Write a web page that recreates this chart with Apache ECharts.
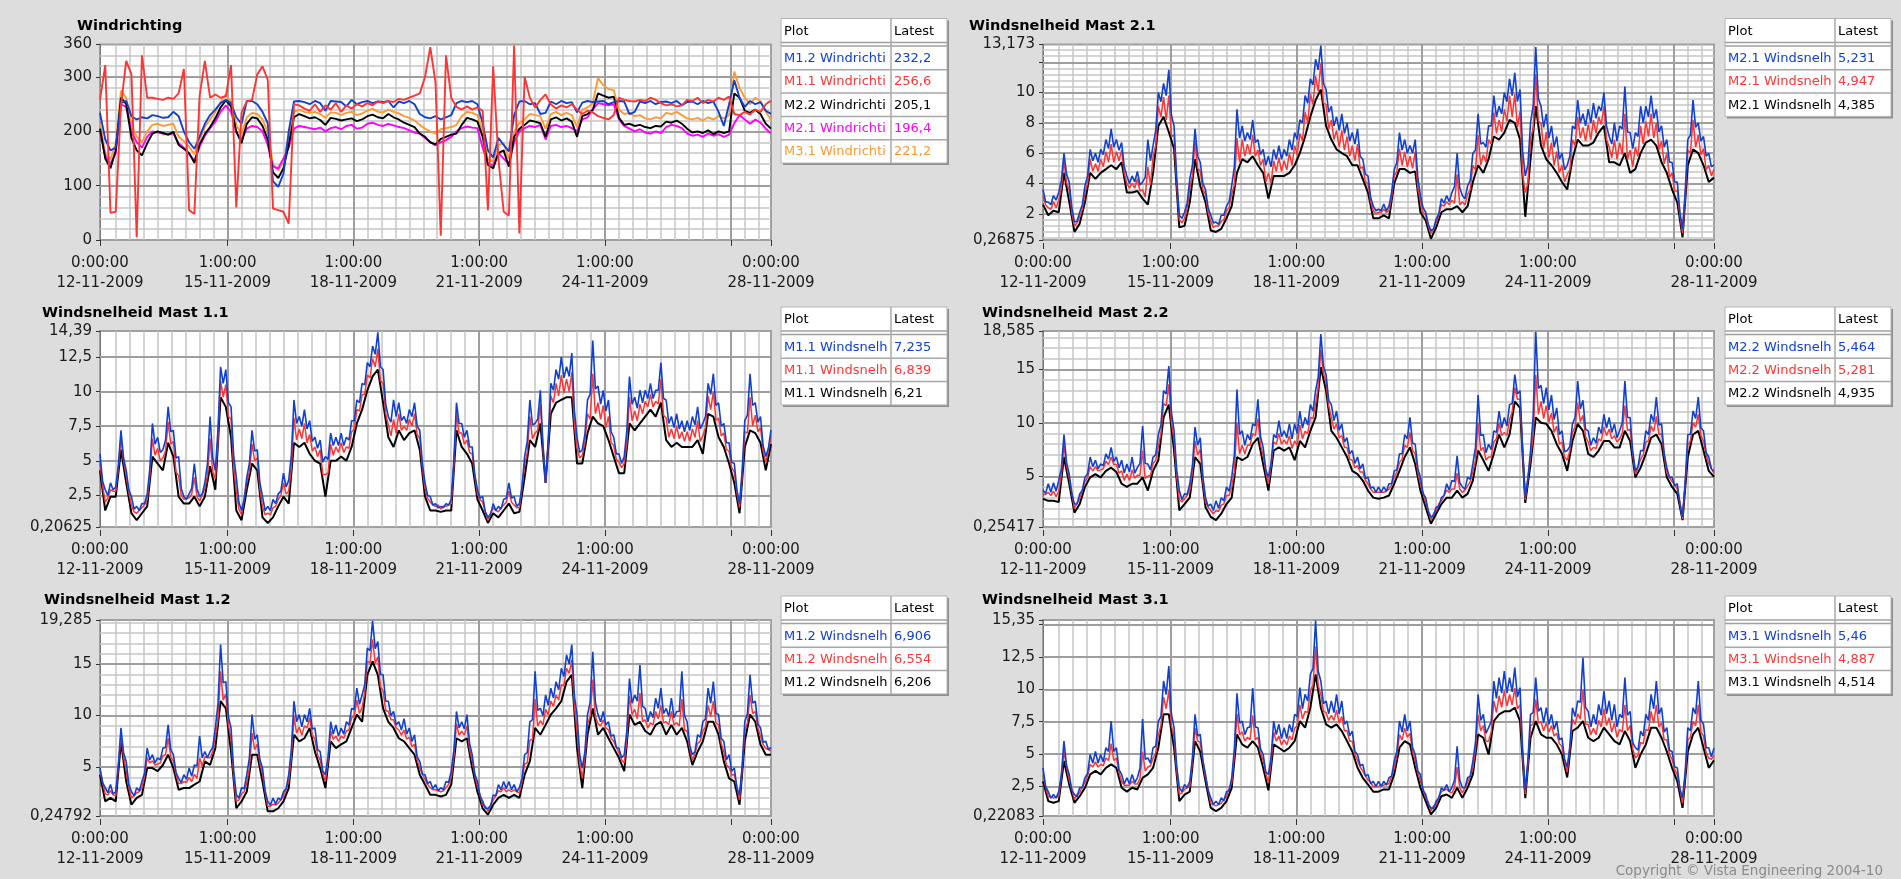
<!DOCTYPE html>
<html>
<head>
<meta charset="utf-8">
<script src="https://cdn.jsdelivr.net/npm/echarts@6/dist/echarts.min.js"></script>
<style>
  html, body { margin: 0; padding: 0; background: #dddddd; }
  #chart { width: 1901px; height: 879px; }
</style>
</head>
<body>
<div id="chart"></div>
<script>
// Readings every 3 hours from 12-11-2009 0:00 to 28-11-2009 0:00 (x in hours);
// the *Mid arrays hold the readings half-way between them (h = 1.5, 4.5, ...).
const STEP_HOURS = 3;

// Time axis ticks and labels
const xTickHours = [0, 73, 145, 217, 289, 361, 384];
const xLabelHours = [0, 73, 145, 217, 289, 384];
const xLabelTexts = ['0:00:00\n12-11-2009', '1:00:00\n15-11-2009', '1:00:00\n18-11-2009',
                     '1:00:00\n21-11-2009', '1:00:00\n24-11-2009', '0:00:00\n28-11-2009'];
const xMinorHours = [9,17,25,33,41,49,57,65, 81,89,97,105,113,121,129,137, 153,161,169,177,185,193,201,209,
                     225,233,241,249,257,265,273,281, 297,305,313,321,329,337,345,353, 369,377];

// ---- Windrichting (degrees) ----
const wrM12 = [234,185,165,170,252,256,228,222,226,224,
  230,228,225,226,236,228,200,180,168,190,
  214,230,240,252,258,252,226,214,256,256,
  250,236,215,108,98,122,200,255,256,254,
  250,256,252,238,256,255,254,246,258,250,
  254,256,252,255,254,256,244,255,252,256,
  250,232,226,224,228,222,226,230,252,256,
  254,256,250,215,165,152,188,175,163,230,
  255,256,250,252,232,234,255,250,256,252,
  254,235,253,256,254,255,256,250,254,256,
  255,232,236,255,252,256,250,254,255,252,
  256,248,254,255,250,256,252,255,236,210,
  250,294,262,245,256,250,254,238,232.2];
const wrM11 = [258,322,50,52,248,330,305,5,340,262,
  262,260,258,262,260,270,315,55,48,265,
  330,262,268,262,265,322,60,235,255,258,
  305,320,295,58,55,52,30,250,248,242,
  238,250,236,248,240,252,236,248,242,250,
  246,252,248,255,252,256,254,260,258,262,
  266,270,300,355,290,8,340,262,245,240,
  246,240,244,238,55,320,150,52,45,358,
  12,300,262,244,258,268,250,242,248,244,
  250,240,232,238,235,228,225,222,230,262,
  258,256,255,258,256,262,258,252,248,250,
  246,248,258,256,262,252,258,255,262,258,
  264,232,230,236,231,240,236,250,256.6];
const wrM22 = [205,150,132,165,262,250,188,165,156,178,
  196,200,197,194,199,175,168,160,142,176,
  195,208,224,244,257,246,200,178,214,226,
  224,210,185,125,114,132,175,226,232,228,
  224,226,221,212,225,223,220,222,224,219,
  222,228,231,226,224,232,226,222,216,212,
  208,196,190,180,176,186,190,194,196,212,
  225,222,218,190,138,132,160,165,135,190,
  205,212,220,218,215,190,222,226,220,224,
  218,190,228,232,240,270,266,262,264,225,
  212,214,210,212,208,206,210,209,218,216,
  220,214,205,198,200,197,202,195,200,197,
  200,270,262,238,234,240,232,214,205.1];
const wrM21 = [200,155,140,160,250,245,200,180,170,190,
  200,198,196,194,196,178,170,158,146,172,
  192,206,218,236,248,236,198,185,205,210,
  208,200,175,135,132,150,170,205,210,208,
  206,204,207,200,206,208,204,210,212,205,
  207,214,216,212,210,214,211,208,206,202,
  198,196,188,180,174,180,184,190,200,206,
  209,207,206,170,140,138,160,150,140,180,
  200,206,210,208,212,185,210,212,208,210,
  206,200,222,226,240,252,250,248,250,222,
  210,205,200,204,198,196,200,197,208,212,
  210,206,196,192,194,190,196,192,195,190,
  194,215,230,222,214,222,216,205,196.4];
const wrM31 = [215,160,148,178,275,262,212,190,180,200,
  212,214,210,212,214,190,182,172,158,185,
  208,222,236,254,268,255,212,195,226,234,
  232,222,198,140,128,145,190,236,240,236,
  234,236,232,225,235,234,230,234,236,230,
  233,238,242,236,235,240,236,233,228,225,
  220,212,205,200,196,204,206,208,212,228,
  236,234,230,200,148,145,175,178,150,200,
  216,222,232,230,228,205,232,236,230,234,
  230,208,240,244,252,298,285,278,276,240,
  232,234,228,230,224,222,226,224,234,232,
  236,230,224,222,225,220,226,222,228,224,
  230,310,280,262,250,262,255,236,221.2];

// ---- Windsnelheid Mast 2.1 (m/s) ----
const m21Blue = [3.6,2.76,3.2,3.4,6.0,4.1,1.45,2.1,3.85,6.25,
  6.0,6.25,6.9,7.6,6.9,6.7,4.5,4.5,4.8,4.1,
  6.9,6.5,10.0,10.6,11.5,7.8,1.9,2.1,4.3,7.6,
  5.4,3.6,1.9,1.45,1.9,2.5,3.85,8.9,7.8,7.36,
  8.2,6.9,6.25,5.8,6.25,6.5,6.25,6.9,7.36,8.2,
  9.8,10.9,12.2,13.1,10.2,9.1,8.4,8.6,8.0,7.36,
  7.6,5.6,4.5,2.5,2.3,2.65,2.5,4.9,7.36,6.9,
  6.5,6.9,3.2,2.1,0.9,1.65,3.0,3.2,3.4,6.0,
  3.2,3.85,6.0,8.6,6.7,7.8,9.8,9.1,10.0,10.9,
  11.3,10.2,4.5,8.0,13.0,9.1,8.6,7.8,7.1,6.0,
  5.2,7.8,9.5,8.6,8.9,9.3,9.1,10.0,7.1,8.0,
  7.8,10.4,7.36,7.36,9.1,9.1,9.8,8.9,7.8,6.9,
  5.4,4.1,1.0,6.9,9.5,8.0,7.1,6.0,5.231];
const m21BlueMid = [2.8,2.6,2.9,4.2,4.6,2.4,1.5,2.6,4.5,5.5,
  5.4,5.9,6.3,6.4,6.2,5.1,4.0,4.1,3.9,4.4,
  5.5,7.5,9.4,9.8,8.5,4.4,1.7,2.7,5.2,5.8,
  4.0,2.4,1.4,1.3,1.9,2.8,5.1,7.0,6.8,6.9,
  6.7,5.9,5.2,5.1,5.6,5.6,5.8,6.2,6.9,8.0,
  9.3,10.5,11.5,10.6,8.7,7.8,7.5,7.3,6.8,6.6,
  5.8,4.6,3.1,2.2,2.2,2.2,3.4,5.4,6.2,6.0,
  6.0,4.4,2.4,1.3,1.0,2.0,2.7,2.8,3.8,3.7,
  3.0,4.2,6.2,6.6,6.4,7.8,8.4,8.6,9.4,9.8,
  9.4,6.1,5.2,9.1,9.6,7.7,7.0,6.4,5.6,4.9,
  5.8,7.6,8.0,7.8,8.0,8.3,8.8,7.8,6.6,6.8,
  7.6,7.4,6.3,7.1,8.0,8.4,8.3,7.4,6.4,5.4,
  4.1,2.1,3.4,7.2,7.7,6.8,5.8,5.1];
const m21Red = [3.2,2.4,2.8,2.9,5.5,3.6,1.2,1.8,3.4,5.6,
  5.3,5.6,6.1,6.6,6.1,6.2,4.0,4.0,4.3,3.6,
  5.1,5.8,9.1,9.7,9.8,7.2,1.6,1.7,3.7,6.8,
  4.8,3.3,1.5,1.2,1.5,2.2,3.3,7.0,6.9,6.6,
  7.2,6.2,5.6,4.7,5.5,5.7,5.5,6.0,6.5,7.3,
  8.7,9.9,11.1,11.9,9.2,8.2,7.5,7.5,7.1,6.5,
  6.6,5.1,4.0,2.2,2.1,2.3,2.2,4.5,6.3,6.1,
  5.8,6.1,2.8,1.9,0.7,1.4,2.6,2.8,2.9,4.6,
  2.8,3.3,5.2,7.2,5.9,6.9,8.7,8.2,8.9,9.8,
  9.9,8.8,3.4,7.0,11.2,8.0,7.4,6.7,6.1,5.2,
  4.6,6.9,8.4,7.7,7.9,8.2,8.4,9.1,6.4,6.9,
  6.7,8.6,6.2,6.4,7.8,8.1,8.6,8.0,6.8,6.0,
  4.7,3.5,0.7,6.2,8.2,7.2,6.3,5.2,4.947];
const m21RedMid = [2.6,2.3,2.4,3.7,4.0,2.1,1.4,2.3,4.0,4.8,
  4.8,5.1,5.4,5.4,5.5,4.7,3.7,3.7,3.5,3.1,
  3.9,6.5,8.4,8.2,7.1,4.0,1.4,2.3,4.5,5.0,
  3.6,2.1,1.1,1.2,1.6,2.4,3.9,5.4,5.8,5.9,
  5.8,5.2,4.1,4.0,4.8,4.8,4.9,5.2,5.9,6.8,
  8.0,9.2,10.1,9.3,7.6,6.9,6.4,6.2,5.8,5.5,
  5.0,4.1,2.8,2.0,2.1,2.1,3.1,4.8,5.2,5.1,
  5.0,3.7,2.1,1.2,1.0,1.9,2.5,2.6,2.7,2.6,
  2.6,3.6,4.9,5.2,5.4,6.6,7.3,7.4,8.1,8.4,
  7.7,4.6,4.0,7.6,8.1,6.3,5.7,5.2,4.7,4.1,
  4.9,6.5,7.0,6.8,6.9,7.3,7.9,6.9,5.7,5.6,
  5.9,5.6,5.1,5.8,6.6,7.1,7.0,6.2,5.3,4.4,
  3.5,1.9,3.1,6.0,6.4,5.9,4.9,4.5];
const m21Black = [2.6,1.9,2.2,2.1,4.7,2.8,0.8,1.35,2.76,4.7,
  4.3,4.7,4.95,5.2,4.95,5.4,3.4,3.4,3.5,3.0,
  2.6,4.7,7.8,8.4,7.4,6.3,1.1,1.2,2.76,5.6,
  3.85,2.76,0.9,0.8,1.0,1.7,2.5,4.7,5.6,5.4,
  5.8,5.2,4.7,3.0,4.5,4.5,4.5,4.7,5.2,6.0,
  7.1,8.4,9.5,10.2,7.8,6.9,6.25,6.0,5.8,5.2,
  5.2,4.3,3.4,1.7,1.7,1.9,1.7,4.0,4.95,4.95,
  4.7,4.8,2.1,1.55,0.35,1.1,2.1,2.3,2.3,2.5,
  2.1,2.5,4.1,5.2,4.7,5.6,7.1,6.9,7.36,8.2,
  8.0,6.9,1.8,5.6,9.1,6.5,5.6,5.2,4.7,4.1,
  3.6,5.6,6.9,6.5,6.5,6.7,7.36,7.8,5.4,5.4,
  5.2,6.0,4.7,4.95,6.0,6.7,6.9,6.5,5.4,4.7,
  3.6,2.76,0.45,5.2,6.25,6.0,5.2,4.1,4.385];

// ---- Windsnelheid Mast 1.1 ----
const m11Blue = [5.5,2.9,3.4,3.1,7.2,4.3,2.4,1.7,1.9,2.6,
  7.7,6.7,5.8,8.9,7.2,5.3,2.4,2.6,4.8,2.4,
  3.4,8.2,4.3,11.8,11.6,8.9,3.8,1.4,3.8,7.2,
  5.8,2.4,1.7,2.2,2.6,4.1,3.6,9.4,8.2,8.7,
  7.9,6.7,6.5,5.3,7.0,6.7,7.0,6.7,7.9,9.4,
  10.6,12.1,13.3,14.3,11.6,8.2,9.4,9.2,8.2,8.7,
  9.2,7.2,3.4,2.4,1.9,1.7,1.9,2.2,9.2,7.7,
  7.2,6.0,2.9,2.4,0.9,1.9,1.7,2.2,3.4,2.4,
  1.9,5.3,9.4,7.7,10.1,3.4,10.6,11.6,12.5,11.8,
  12.8,6.7,5.8,9.4,13.7,10.4,10.1,9.4,6.7,5.5,
  5.3,11.1,9.6,10.1,10.1,10.6,10.1,12.1,9.4,8.2,
  8.4,7.9,7.9,8.2,8.9,7.7,10.6,11.3,9.2,7.7,
  6.3,4.8,1.9,7.9,11.3,9.2,8.2,5.3,7.235];
const m11BlueMid = [3.5,2.5,2.9,4.7,5.2,2.9,1.5,1.4,1.9,4.4,
  6.2,5.6,6.5,7.1,5.2,3.0,2.2,3.0,3.0,2.6,
  4.8,5.2,7.2,10.6,9.2,5.4,2.0,2.2,4.8,5.7,
  3.4,1.4,1.4,1.9,2.8,3.1,5.4,7.7,7.5,7.3,
  6.4,5.9,4.9,5.1,6.1,6.1,6.1,6.5,7.9,9.2,
  10.5,11.8,12.7,11.8,9.1,7.8,8.2,7.9,7.7,8.2,
  7.5,4.8,2.5,1.8,1.6,1.6,1.8,5.1,7.7,6.7,
  6.0,4.0,2.3,1.3,1.1,1.4,1.5,2.3,2.3,1.7,
  3.1,6.4,7.6,8.0,6.2,6.5,10.1,10.9,11.0,11.1,
  8.6,5.6,6.9,9.8,10.2,9.1,8.6,7.1,5.5,4.8,
  7.2,9.1,8.8,9.2,9.5,9.5,10.1,9.5,7.7,7.4,
  7.3,7.1,7.2,7.6,7.3,8.2,9.8,9.0,7.5,6.3,
  4.9,2.9,4.3,8.3,9.0,7.8,6.1,5.9];
const m11Red = [4.9,2.0,2.9,2.8,6.6,3.9,1.8,1.2,1.6,2.2,
  6.6,5.9,5.2,7.8,6.4,3.9,2.2,2.3,3.8,2.1,
  3.0,6.6,3.7,10.8,10.5,8.0,2.8,1.1,3.4,6.2,
  5.2,1.7,1.2,1.6,2.2,3.4,2.8,8.1,7.3,7.7,
  6.9,6.0,5.8,4.0,6.2,6.0,6.3,6.0,7.1,8.7,
  9.8,11.2,12.4,13.1,10.6,7.6,8.0,8.4,7.5,8.0,
  8.4,6.6,3.0,2.0,1.7,1.5,1.7,1.9,8.4,7.0,
  6.5,5.5,2.6,2.0,0.7,1.6,1.3,1.8,2.8,1.8,
  1.6,4.7,8.2,7.0,9.1,3.4,9.7,10.6,11.2,10.9,
  11.4,5.9,5.4,8.4,11.3,9.2,9.0,8.2,6.1,4.9,
  4.8,9.6,8.6,9.1,9.3,9.8,9.3,10.9,8.1,7.3,
  7.5,7.1,7.1,7.3,7.9,6.8,9.7,10.0,8.1,7.0,
  5.7,4.2,1.6,7.1,9.6,8.3,7.4,4.9,6.839];
const m11RedMid = [3.2,2.3,2.8,4.5,5.0,2.7,1.3,1.4,1.8,3.9,
  5.4,5.0,5.7,6.2,4.2,2.5,2.3,2.6,2.4,2.5,
  3.9,4.2,6.6,9.6,8.2,4.5,1.5,2.2,4.2,5.0,
  3.0,1.1,1.1,1.7,2.5,2.6,4.5,6.5,6.6,6.3,
  5.7,5.3,4.0,4.1,5.4,5.6,5.6,5.9,7.3,8.6,
  9.8,11.0,11.8,10.8,8.4,6.8,7.0,7.2,7.2,7.5,
  6.9,4.5,2.3,1.8,1.8,1.7,1.8,4.7,7.0,6.2,
  5.6,3.9,2.2,1.3,1.2,1.4,1.6,2.0,2.0,1.6,
  3.0,5.6,6.6,7.2,6.0,6.3,9.2,9.7,9.9,10.0,
  7.6,5.2,6.3,8.0,8.4,8.0,7.4,6.3,5.1,4.5,
  6.3,7.9,7.9,8.4,8.9,8.9,9.1,8.3,6.7,6.6,
  6.6,6.4,6.4,6.7,6.4,7.4,8.7,7.9,6.8,5.8,
  4.5,2.7,4.0,7.0,7.5,7.1,5.7,5.7];
const m11Black = [4.3,1.4,2.4,2.4,5.8,3.4,1.2,0.7,1.2,1.7,
  5.3,4.8,4.3,6.3,5.3,2.4,1.9,1.9,2.4,1.7,
  2.4,4.6,2.9,9.6,8.9,6.7,1.4,0.7,2.9,4.8,
  4.3,0.9,0.5,0.9,1.7,2.4,1.9,6.3,6.0,6.3,
  5.5,5.0,4.8,2.4,5.0,5.0,5.3,5.0,6.0,7.7,
  8.7,10.1,11.1,11.6,9.2,6.7,6.0,7.2,6.5,7.0,
  7.2,5.8,2.4,1.4,1.4,1.3,1.4,1.4,7.2,6.0,
  5.5,4.8,2.2,1.4,0.5,1.2,0.9,1.4,1.9,1.2,
  1.3,3.8,6.5,6.0,7.7,3.4,8.4,9.2,9.4,9.6,
  9.6,4.8,4.8,7.0,8.2,7.7,7.5,6.5,5.3,4.1,
  4.1,7.7,7.2,7.7,8.2,8.7,8.2,9.2,6.5,6.0,
  6.3,6.0,6.0,6.0,6.5,5.5,8.4,8.2,6.7,6.0,
  4.8,3.4,1.2,6.0,7.2,7.0,6.3,4.3,6.21];

// ---- Windsnelheid Mast 2.2 ----
const m22Blue = [3.7,4.3,4.4,4.6,8.9,5.2,2.4,3.35,4.9,6.8,
  6.5,6.15,7.1,7.7,6.8,6.5,6.15,6.8,5.8,9.7,
  6.15,6.8,8.9,13.0,15.3,9.25,3.7,3.35,4.3,9.6,
  8.6,3.0,2.4,2.7,3.0,4.0,4.9,13.1,9.25,8.9,
  9.9,12.2,7.7,4.9,8.9,10.2,9.25,9.9,9.9,11.1,
  10.5,11.7,13.0,18.3,14.5,11.7,11.1,9.9,8.6,7.4,
  6.8,6.15,4.9,4.0,4.0,4.0,4.3,5.5,7.1,8.9,
  10.5,8.0,4.9,3.0,1.2,2.1,3.0,4.3,4.6,6.9,
  4.0,4.9,6.15,12.6,8.9,8.0,9.25,11.1,10.5,11.7,
  14.5,13.0,3.0,7.4,18.5,13.5,13.3,12.6,11.4,9.25,
  7.4,9.9,13.9,12.1,9.25,8.6,9.6,10.8,10.5,9.9,
  9.25,13.9,10.5,5.5,7.4,9.25,10.8,12.4,9.9,5.8,
  4.9,4.3,1.2,8.9,11.1,12.4,9.25,6.8,5.464];
const m22BlueMid = [3.4,3.5,3.6,5.7,6.3,3.4,2.4,3.7,5.2,5.9,
  5.7,6.0,6.6,6.4,5.8,5.3,5.4,5.3,6.2,6.2,
  5.6,7.0,9.8,12.7,11.0,5.6,2.8,3.3,6.0,7.9,
  5.0,2.2,1.8,2.0,2.7,3.6,7.0,8.9,7.9,8.4,
  9.7,8.7,5.6,6.2,8.6,8.7,8.6,8.5,9.0,9.5,
  9.8,11.1,14.3,15.3,12.1,10.2,9.3,8.2,7.1,6.2,
  5.7,4.8,3.9,3.5,3.5,3.6,4.3,5.6,7.1,8.5,
  8.1,5.7,3.4,1.7,1.3,2.2,3.2,3.7,4.5,4.4,
  3.8,4.7,7.7,8.8,7.2,7.5,9.1,9.5,9.7,11.8,
  12.7,7.5,4.8,10.6,13.2,11.8,11.2,10.3,8.9,7.3,
  7.8,10.5,11.3,9.4,7.9,8.1,9.0,9.5,9.1,8.6,
  10.0,10.5,7.3,5.9,7.4,8.9,10.1,9.8,7.1,4.9,
  4.1,2.4,4.4,8.9,10.4,9.5,7.2,5.7];
const m22Red = [3.3,3.5,3.6,3.6,7.9,4.8,2.0,2.9,4.5,5.9,
  5.9,5.6,6.4,6.8,6.1,5.5,5.2,5.6,5.1,7.4,
  5.0,6.2,7.8,11.8,13.6,8.4,2.8,2.9,3.7,8.3,
  7.5,2.6,1.8,1.8,2.3,3.2,4.0,10.0,7.9,7.9,
  9.0,10.4,7.0,4.3,8.2,9.0,8.4,8.8,8.3,9.8,
  9.2,10.5,11.8,16.8,13.8,10.5,9.9,8.8,7.7,6.5,
  6.0,5.4,4.3,3.5,3.5,3.5,3.8,4.9,6.3,7.9,
  9.1,7.1,4.3,2.6,0.9,1.8,2.7,3.7,3.8,5.3,
  3.5,4.1,5.4,10.0,7.7,6.8,8.2,10.0,9.1,10.3,
  13.3,12.2,2.8,6.8,14.5,12.0,11.6,10.9,9.7,8.2,
  6.5,9.1,11.9,10.7,8.2,7.7,8.5,9.6,9.4,8.8,
  8.5,11.6,9.4,5.2,6.6,8.2,9.7,10.6,9.0,5.3,
  4.5,3.8,1.0,7.9,10.0,10.8,8.3,6.2,5.281];
const m22RedMid = [3.3,3.2,3.1,5.2,6.0,3.4,2.5,3.7,4.9,5.5,
  5.5,5.7,6.1,6.1,5.3,4.6,4.6,4.8,5.1,4.8,
  5.1,6.5,9.0,11.6,10.0,5.1,2.6,3.2,5.4,7.0,
  4.6,2.1,1.5,1.7,2.4,3.2,5.4,7.1,7.1,7.9,
  8.8,7.9,5.4,6.0,8.0,8.0,8.0,7.6,7.9,8.5,
  9.0,10.4,13.3,14.6,11.6,9.4,8.6,7.7,6.6,5.8,
  5.4,4.6,3.8,3.5,3.5,3.6,4.2,5.4,6.6,7.7,
  7.4,5.4,3.4,1.8,1.5,2.4,3.2,3.5,3.8,3.8,
  3.7,4.5,6.5,7.4,6.5,6.8,8.5,8.8,8.8,11.0,
  12.2,7.4,4.8,8.8,10.8,10.4,10.1,9.1,8.0,6.8,
  7.4,9.6,10.1,8.7,7.4,7.6,8.3,8.8,8.5,8.2,
  9.0,9.3,7.1,5.8,7.0,8.3,9.2,8.9,7.0,4.9,
  4.2,2.6,4.3,8.3,9.6,8.8,7.0,5.7];
const m22Black = [2.9,2.7,2.7,2.6,6.8,4.3,1.6,2.4,4.0,4.9,
  5.2,4.9,5.5,5.8,5.4,4.3,4.0,4.3,4.3,4.9,
  3.66,5.5,6.5,10.5,11.7,7.4,1.8,2.4,3.0,6.8,
  6.15,2.1,1.2,0.9,1.5,2.4,3.0,6.8,6.5,6.8,
  8.0,8.6,6.15,3.66,7.4,7.7,7.4,7.7,6.5,8.3,
  7.7,9.25,10.5,15.2,13.0,9.25,8.6,7.7,6.8,5.5,
  5.2,4.6,3.66,3.0,2.9,3.0,3.2,4.3,5.5,6.8,
  7.7,6.15,3.66,2.1,0.56,1.5,2.4,3.0,3.0,3.66,
  3.0,3.35,4.6,7.4,6.5,5.5,7.1,8.9,7.7,8.9,
  12.0,11.4,2.5,6.15,10.5,10.0,9.9,9.25,8.0,7.1,
  5.5,8.3,9.9,9.25,7.1,6.8,7.4,8.3,8.3,7.7,
  7.7,9.25,8.3,4.9,5.8,7.1,8.6,8.9,8.0,4.9,
  4.0,3.35,0.9,6.8,8.9,9.25,7.4,5.5,4.935];

// ---- Windsnelheid Mast 1.2 ----
const m12Blue = [4.9,3.0,3.3,2.6,8.8,5.55,2.6,3.0,3.6,6.84,
  6.2,5.9,6.84,9.1,6.2,3.9,4.26,4.9,5.2,8.0,
  6.5,6.5,8.8,16.9,13.3,8.8,2.3,3.0,4.26,10.1,
  8.14,4.9,1.67,2.0,2.0,2.6,4.26,11.4,10.1,10.1,
  10.7,8.8,6.5,4.26,9.4,9.1,8.8,9.4,10.7,12.67,
  12.0,16.55,19.2,17.2,13.96,11.4,10.4,9.4,9.7,8.8,
  8.14,5.55,4.26,3.6,3.3,3.0,3.6,4.6,10.4,9.4,
  10.1,6.2,3.6,1.67,1.0,2.3,3.3,3.6,3.6,3.3,
  3.0,6.2,9.4,14.3,10.7,12.0,12.67,13.3,14.6,15.9,
  16.9,10.1,4.9,10.1,16.2,10.1,10.4,9.4,8.14,6.84,
  6.2,13.6,12.0,14.9,10.7,10.4,11.7,12.67,10.7,11.7,
  10.4,14.3,9.4,6.2,8.14,9.4,12.67,13.3,10.1,7.5,
  6.2,4.9,2.3,9.4,13.96,11.4,8.8,7.5,6.906];
const m12BlueMid = [3.5,2.5,2.4,5.2,6.4,3.3,2.2,2.7,4.4,5.7,
  5.4,5.7,6.9,6.7,4.5,3.5,3.8,4.1,5.1,5.9,
  5.9,6.9,11.1,13.2,9.9,4.7,2.0,2.9,5.9,7.7,
  5.7,2.7,1.3,1.4,1.8,2.9,6.7,9.4,8.9,9.4,
  8.7,6.7,4.6,6.0,8.2,8.0,8.2,9.1,10.6,11.1,
  13.0,16.3,16.5,14.0,11.4,10.0,9.1,8.6,8.2,7.5,
  6.0,4.3,3.4,2.9,2.7,2.8,3.5,6.6,8.8,8.7,
  7.3,4.3,2.2,1.0,1.2,2.2,2.8,2.9,2.8,2.6,
  3.9,6.4,9.6,10.5,10.0,11.0,11.7,12.5,13.8,15.0,
  11.9,6.2,6.5,11.3,11.3,9.4,9.1,8.0,6.9,5.9,
  8.6,11.2,11.4,10.9,9.4,9.8,10.7,10.2,9.9,9.8,
  10.4,10.0,7.1,6.5,7.9,9.7,11.2,10.2,7.8,5.7,
  4.6,3.0,5.1,10.2,11.2,9.2,7.4,6.7];
const m12Red = [4.6,2.4,2.7,2.2,8.2,4.6,2.0,2.5,3.0,5.9,
  5.6,5.3,6.1,7.8,5.6,3.4,3.6,4.0,4.3,5.9,
  6.0,5.9,7.9,14.3,12.1,7.7,1.7,2.4,3.5,8.3,
  7.2,4.3,1.2,1.4,1.5,2.2,3.6,9.9,8.9,9.0,
  9.8,7.7,5.7,3.6,8.5,8.0,8.0,8.5,9.8,11.5,
  10.8,15.3,17.4,15.7,12.4,10.4,9.6,8.6,8.6,7.9,
  7.2,4.9,3.8,3.0,2.8,2.6,3.0,4.0,9.2,8.5,
  9.0,5.6,3.1,1.3,0.7,1.8,2.7,3.0,2.8,2.8,
  2.5,5.3,7.6,11.6,9.5,10.6,11.4,12.0,13.0,14.6,
  15.4,8.5,3.9,9.2,13.5,9.2,9.6,8.6,7.5,6.4,
  5.4,11.9,10.6,12.2,9.6,9.3,10.4,11.0,9.4,10.4,
  9.3,11.6,8.5,5.7,7.3,8.5,11.0,11.4,9.1,6.5,
  5.0,4.3,1.8,8.5,12.0,10.4,8.0,6.8,6.554];
const m12RedMid = [3.5,2.3,2.3,5.1,6.0,3.0,2.2,2.6,4.1,5.4,
  5.2,5.4,6.2,6.0,4.3,3.4,3.5,3.6,3.9,5.1,
  5.9,6.5,9.6,11.5,9.1,4.2,1.8,2.6,4.9,6.7,
  5.4,2.6,1.2,1.3,1.8,2.8,6.0,8.3,8.1,8.8,
  8.1,6.2,4.4,5.7,7.7,7.5,7.8,8.6,9.9,10.2,
  12.2,15.1,15.1,12.8,10.5,9.6,8.8,8.1,7.7,7.0,
  5.7,4.3,3.3,2.8,2.7,2.7,3.3,6.0,8.1,8.1,
  6.8,4.2,2.3,1.2,1.3,2.2,2.6,2.6,2.6,2.6,
  3.6,5.4,7.7,9.0,9.1,10.1,10.9,11.5,12.9,14.1,
  10.9,5.4,6.0,9.9,9.9,9.0,8.8,7.8,6.9,5.7,
  7.8,10.1,9.7,9.4,8.8,9.1,9.7,9.3,9.1,9.1,
  9.0,8.6,6.8,6.3,7.5,8.9,9.9,9.3,7.3,5.2,
  4.2,3.0,4.9,9.3,10.2,8.8,7.2,6.7];
const m12Black = [4.26,1.67,2.0,1.67,7.5,3.6,1.34,2.0,2.3,4.9,
  4.9,4.6,5.2,6.2,4.9,2.8,2.96,2.96,3.3,3.6,
  5.55,5.2,6.84,11.4,10.7,6.5,1.0,1.67,2.6,6.2,
  6.2,3.6,0.7,0.7,1.0,1.67,2.96,8.14,7.5,7.8,
  8.8,6.5,4.9,2.96,7.5,6.84,7.2,7.5,8.8,10.1,
  9.4,13.96,15.26,13.96,10.7,9.4,8.8,7.8,7.5,6.84,
  6.2,4.26,3.3,2.3,2.3,2.15,2.3,3.3,7.8,7.5,
  7.8,4.9,2.6,1.0,0.37,1.34,2.0,2.3,2.0,2.3,
  2.0,4.26,5.55,8.8,8.14,9.1,10.1,10.7,11.4,13.3,
  13.96,6.84,2.96,8.14,10.7,8.14,8.8,7.8,6.84,5.9,
  4.6,10.1,9.1,9.4,8.5,8.14,9.1,9.4,8.14,9.1,
  8.14,8.8,7.5,5.2,6.5,7.5,9.4,9.4,8.14,5.55,
  3.9,3.6,1.34,7.5,10.1,9.4,7.2,6.2,6.206];

// ---- Windsnelheid Mast 3.1 ----
const m31Blue = [3.94,2.1,1.88,2.1,6.0,3.43,1.88,2.4,3.17,4.97,
  5.2,4.97,5.49,7.55,5.49,3.43,3.17,3.43,3.17,7.7,
  4.7,5.49,7.55,10.64,11.8,7.04,2.4,2.65,2.9,8.07,
  6.52,3.43,1.62,1.37,1.62,2.1,3.17,9.7,7.55,7.04,
  10.1,7.04,4.97,3.43,7.55,7.3,7.04,7.3,8.07,10.13,
  9.61,11.16,15.3,10.64,9.1,9.1,9.61,9.1,7.55,6.78,
  4.97,4.2,3.43,2.9,2.9,2.9,3.17,4.46,7.55,8.07,
  7.55,4.97,3.43,1.88,0.85,1.37,2.4,2.65,2.4,5.6,
  2.4,3.17,4.46,9.61,8.07,7.04,10.64,10.9,11.4,10.9,
  11.68,10.13,2.2,8.07,10.9,8.58,8.58,8.07,7.55,6.26,
  4.0,8.58,9.1,12.45,8.3,8.07,8.84,9.87,9.1,8.84,
  8.07,10.9,8.3,5.49,6.78,8.07,9.61,10.64,8.58,7.04,
  5.2,3.94,1.62,7.04,8.58,10.64,7.3,5.49,5.46];
const m31BlueMid = [2.5,1.6,1.6,3.4,4.1,2.2,1.7,2.4,3.5,4.3,
  4.3,4.4,5.2,5.2,3.8,2.7,2.7,2.8,3.9,4.6,
  4.3,5.6,7.9,9.6,8.1,4.1,2.1,2.4,4.7,6.4,
  4.5,2.2,1.1,1.1,1.4,2.2,5.4,7.4,6.5,7.1,
  7.1,5.4,3.6,4.7,6.5,6.2,6.2,6.7,7.9,8.5,
  9.1,11.6,11.4,8.9,8.1,8.2,8.1,7.3,6.4,5.2,
  4.1,3.3,2.7,2.5,2.5,2.6,3.3,5.2,6.7,6.8,
  5.5,3.7,2.2,1.1,0.8,1.6,2.2,2.1,3.0,3.0,
  2.4,3.3,5.9,7.6,6.6,7.5,9.3,9.7,9.7,9.8,
  9.4,5.3,4.5,8.2,8.3,7.4,7.3,6.9,6.1,4.6,
  5.6,7.9,9.0,8.6,7.1,7.3,8.0,8.1,7.6,7.1,
  7.8,8.0,5.9,5.3,6.4,7.6,8.5,8.1,6.7,5.3,
  4.0,2.3,3.6,6.8,8.1,7.6,5.5,4.8];
const m31Red = [3.4,1.7,1.6,1.7,5.2,3.0,1.5,2.0,2.8,4.2,
  4.4,4.2,4.7,5.8,4.7,2.9,2.6,2.9,2.7,5.2,
  4.0,4.7,6.5,9.4,9.9,6.3,1.9,2.3,2.5,7.0,
  5.9,3.2,1.2,1.0,1.2,1.7,2.8,8.1,6.7,6.3,
  8.0,6.3,4.5,2.8,6.7,6.4,6.1,6.4,7.0,8.8,
  8.3,9.9,13.3,9.6,8.2,8.0,8.4,7.9,6.8,6.0,
  4.5,3.7,3.0,2.5,2.5,2.6,2.7,3.9,6.5,7.0,
  6.6,4.5,2.9,1.6,0.6,1.1,2.1,2.3,2.0,4.0,
  2.0,2.8,3.9,8.0,7.2,6.0,9.1,9.5,9.9,9.6,
  10.1,8.8,1.9,7.2,9.2,7.5,7.4,7.2,6.6,5.6,
  3.6,7.7,8.1,10.0,7.3,7.0,7.6,8.5,7.8,7.4,
  6.9,8.8,7.2,4.7,5.9,6.9,8.3,8.8,7.4,6.1,
  4.6,3.4,1.2,6.1,7.5,8.8,6.4,4.7,4.887];
const m31RedMid = [2.5,1.7,1.7,3.3,4.0,2.3,1.9,2.5,3.3,4.0,
  4.0,4.1,4.5,4.5,3.6,2.6,2.6,2.7,3.1,3.7,
  4.1,5.1,7.2,8.5,7.2,3.8,2.0,2.4,4.5,6.0,
  4.5,2.3,1.1,1.1,1.5,2.3,4.9,6.5,6.0,6.1,
  6.1,5.1,3.5,4.4,6.0,5.7,5.7,6.1,7.2,7.7,
  8.2,10.3,10.3,8.3,7.6,7.6,7.4,6.8,6.0,5.0,
  4.0,3.3,2.8,2.5,2.6,2.7,3.3,4.9,6.1,6.3,
  5.2,3.6,2.3,1.3,1.0,1.7,2.2,2.1,2.4,2.4,
  2.4,3.3,5.4,6.8,6.0,6.7,8.2,8.6,8.7,8.8,
  8.5,5.0,4.3,7.3,7.4,6.8,6.7,6.4,5.8,4.5,
  5.4,7.3,7.7,7.3,6.5,6.5,7.1,7.2,6.7,6.3,
  6.7,6.8,5.4,4.9,5.8,6.8,7.4,7.1,6.1,5.0,
  3.8,2.3,3.4,6.3,7.2,6.7,5.1,4.6];
const m31Black = [2.9,1.37,1.24,1.37,4.46,2.65,1.24,1.75,2.4,3.43,
  3.7,3.43,3.94,4.2,3.94,2.4,2.1,2.4,2.27,3.17,
  3.43,3.94,5.49,8.07,8.07,5.49,1.37,1.88,2.1,6.0,
  5.2,2.9,0.85,0.6,0.85,1.37,2.4,6.52,5.75,5.49,
  6.0,5.49,3.94,2.2,5.75,5.49,5.2,5.49,6.0,7.55,
  7.04,8.58,11.16,8.58,7.3,7.04,7.3,6.78,6.0,5.2,
  3.94,3.17,2.65,2.1,2.1,2.27,2.27,3.43,5.49,6.0,
  5.75,3.94,2.4,1.37,0.34,0.85,1.75,1.88,1.62,2.4,
  1.62,2.4,3.43,6.52,6.26,4.97,7.55,8.07,8.3,8.3,
  8.58,7.55,1.6,6.26,7.55,6.52,6.26,6.26,5.75,4.97,
  3.2,6.78,7.04,7.55,6.26,6.0,6.26,7.04,6.52,6.0,
  5.75,6.78,6.0,3.94,4.97,5.75,7.04,7.04,6.26,5.2,
  3.94,2.9,0.85,5.2,6.52,7.04,5.49,3.94,4.514];

// ---- value axis ticks per panel ----
const wrYLabels  = [0, 100, 200, 300, 360];
const m21YLabels = [0.26875, 2, 4, 6, 8, 10, 13.173];
const m11YLabels = [0.20625, 2.5, 5, 7.5, 10, 12.5, 14.39];
const m22YLabels = [0.25417, 5, 10, 15, 18.585];
const m12YLabels = [0.24792, 5, 10, 15, 19.285];
const m31YLabels = [0.22083, 2.5, 5, 7.5, 10, 12.5, 15.35];

const FONT = '"DejaVu Sans", Verdana, sans-serif';
const BLUE = '#1040d0', RED = '#ff3434', BLACK = '#000000', MAGENTA = '#ff00ff', ORANGE = '#ff9a33';

// stroke widths for the three speed traces (blue, red, black)
const SPEED_WIDTHS = [1.6, 1.5, 2.0];

function speedLines(label, blue, blueMid, red, redMid, black) {
  return [
    { name: label, color: BLUE, data: blue, mid: blueMid, width: SPEED_WIDTHS[0] },
    { name: label, color: RED, data: red, mid: redMid, width: SPEED_WIDTHS[1] },
    { name: label, color: BLACK, data: black, width: SPEED_WIDTHS[2] }
  ];
}

const panels = [
  { title: 'Windrichting', col: 0, row: 0, titleLeft: 77,
    yMin: 0, yMax: 360, yLabels: wrYLabels, yTicks: wrYLabels, yMajor: [100, 200, 300], yMinorStep: 20,
    lines: [
      { name: 'M1.2 Windrichting', color: BLUE, data: wrM12, width: 1.9 },
      { name: 'M1.1 Windrichting', color: RED, data: wrM11, width: 1.9 },
      { name: 'M2.2 Windrichting', color: BLACK, data: wrM22, width: 1.9 },
      { name: 'M2.1 Windrichting', color: MAGENTA, data: wrM21, width: 1.9 },
      { name: 'M3.1 Windrichting', color: ORANGE, data: wrM31, width: 1.9 }
    ],
    drawOrder: [4, 3, 2, 0, 1] },
  { title: 'Windsnelheid Mast 2.1', col: 1, row: 0, titleLeft: 969,
    yMin: 0.26875, yMax: 13.173, yLabels: m21YLabels, yTicks: [0.26875, 2, 4, 6, 8, 10, 12, 13.173],
    yMajor: [2, 4, 6, 8, 10, 12], yMinorStep: 0.4,
    lines: speedLines('M2.1 Windsnelheid', m21Blue, m21BlueMid, m21Red, m21RedMid, m21Black),
    drawOrder: [2, 1, 0] },
  { title: 'Windsnelheid Mast 1.1', col: 0, row: 1, titleLeft: 42,
    yMin: 0.20625, yMax: 14.39, yLabels: m11YLabels, yTicks: m11YLabels,
    yMajor: [2.5, 5, 7.5, 10, 12.5], yMinorStep: 0,
    lines: speedLines('M1.1 Windsnelheid', m11Blue, m11BlueMid, m11Red, m11RedMid, m11Black),
    drawOrder: [2, 1, 0] },
  { title: 'Windsnelheid Mast 2.2', col: 1, row: 1, titleLeft: 982,
    yMin: 0.25417, yMax: 18.585, yLabels: m22YLabels, yTicks: m22YLabels,
    yMajor: [5, 10, 15], yMinorStep: 1,
    lines: speedLines('M2.2 Windsnelheid', m22Blue, m22BlueMid, m22Red, m22RedMid, m22Black),
    drawOrder: [2, 1, 0] },
  { title: 'Windsnelheid Mast 1.2', col: 0, row: 2, titleLeft: 44,
    yMin: 0.24792, yMax: 19.285, yLabels: m12YLabels, yTicks: m12YLabels,
    yMajor: [5, 10, 15], yMinorStep: 1,
    lines: speedLines('M1.2 Windsnelheid', m12Blue, m12BlueMid, m12Red, m12RedMid, m12Black),
    drawOrder: [2, 1, 0] },
  { title: 'Windsnelheid Mast 3.1', col: 1, row: 2, titleLeft: 982,
    yMin: 0.22083, yMax: 15.35, yLabels: m31YLabels, yTicks: [0.22083, 2.5, 5, 7.5, 10, 12.5, 15, 15.35],
    yMajor: [2.5, 5, 7.5, 10, 12.5, 15], yMinorStep: 0,
    lines: speedLines('M3.1 Windsnelheid', m31Blue, m31BlueMid, m31Red, m31RedMid, m31Black),
    drawOrder: [2, 1, 0] }
];

// Layout
const gridLeft = [100, 1043], gridWidth = 671;
const gridTop = [44.5, 331, 620], gridHeight = [195.5, 196, 196];
const titleTop = [18.5, 305.5, 592.5];
const legendLeft = [781, 1725], legendTop = [18.5, 307, 596];
const X_MIN = 0, X_MAX = 384;

const fmtNum = v => String(v).replace('.', ',');

// [hour, value] pairs from the 3-hourly readings and the optional half-way readings
function toPairs(main, mid) {
  const out = [];
  main.forEach((v, i) => {
    out.push([i * STEP_HOURS, v]);
    if (mid && i < mid.length) out.push([i * STEP_HOURS + STEP_HOURS / 2, mid[i]]);
  });
  return out;
}

function minorValues(max, step, majors) {
  const out = [];
  if (!step) return out;
  for (let k = 1; k * step < max - 1e-9; k++) {
    const v = Math.round(k * step * 1e6) / 1e6;
    if (!majors.some(m => Math.abs(m - v) < 1e-6)) out.push(v);
  }
  return out;
}

function gridLineSeries(gi, xs, ys, p, color, width) {
  const data = [];
  xs.forEach(x => data.push({ coords: [[x, p.yMin], [x, p.yMax]] }));
  ys.forEach(y => data.push({ coords: [[X_MIN, y], [X_MAX, y]] }));
  return {
    type: 'lines', coordinateSystem: 'cartesian2d', xAxisIndex: gi, yAxisIndex: gi,
    silent: true, z: 1, animation: false, polyline: false,
    lineStyle: { color, width, opacity: 1, curveness: 0 },
    effect: { show: false }, data
  };
}

function legendTable(x, y, p) {
  const w1 = 110, w2 = 56, hh = 24, gap = 4, rh = 23.3;
  const n = p.lines.length;
  const H = hh + gap + n * rh, W = w1 + w2;
  const els = [];
  const line = (x1, y1, x2, y2, c, w) => els.push({ type: 'line', silent: true,
    shape: { x1, y1, x2, y2 }, style: { stroke: c, lineWidth: w } });
  els.push({ type: 'rect', silent: true, shape: { x: x + 2, y: y + 2, width: W, height: H }, style: { fill: '#8f8f8f' } });
  els.push({ type: 'rect', silent: true, shape: { x, y, width: W, height: H }, style: { fill: '#ffffff', stroke: '#b4b4b4', lineWidth: 1 } });
  line(x, y + hh, x + W, y + hh, '#a0a0a0', 1.5);
  line(x, y + hh + gap - 0.5, x + W, y + hh + gap - 0.5, '#a0a0a0', 1.5);
  for (let k = 1; k < n; k++) line(x, y + hh + gap + k * rh, x + W, y + hh + gap + k * rh, '#a8a8a8', 1.5);
  line(x + w1, y, x + w1, y + H, '#a8a8a8', 1.5);
  const txt = (tx, ty, text, fill, width) => els.push({ type: 'text', silent: true, x: tx, y: ty,
    style: { text, fill, font: '13px ' + FONT, verticalAlign: 'middle', align: 'left',
             width, overflow: 'truncate', ellipsis: '' } });
  txt(x + 3, y + hh / 2 + 1, 'Plot', '#000', w1 - 4);
  txt(x + w1 + 3, y + hh / 2 + 1, 'Latest', '#000', w2 - 4);
  p.lines.forEach((s, k) => {
    const cy = y + hh + gap + k * rh + rh / 2 + 0.5;
    txt(x + 3, cy, s.name, s.color, 108);
    txt(x + w1 + 3, cy, fmtNum(s.data[s.data.length - 1]), s.color, w2 - 4);
  });
  return els;
}

const option = {
  animation: false,
  backgroundColor: '#dddddd',
  title: [], grid: [], xAxis: [], yAxis: [], series: [],
  graphic: { elements: [] }
};

panels.forEach((p, gi) => {
  option.title.push({
    text: p.title, left: p.titleLeft, top: titleTop[p.row], padding: 0,
    textStyle: { fontFamily: FONT, fontWeight: 'bold', fontSize: 14.5, color: '#000' }
  });
  option.grid.push({
    left: gridLeft[p.col], top: gridTop[p.row], width: gridWidth, height: gridHeight[p.row],
    show: true, backgroundColor: '#ffffff', borderColor: '#a0a0a0', borderWidth: 2
  });
  option.xAxis.push({
    gridIndex: gi, type: 'value', min: X_MIN, max: X_MAX, offset: 3,
    axisLine: { show: false }, splitLine: { show: false },
    axisTick: { show: true, customValues: xTickHours, length: 6, lineStyle: { color: '#333', width: 1 } },
    axisLabel: { customValues: xLabelHours, formatter: v => xLabelTexts[xLabelHours.indexOf(v)] || '',
      fontFamily: FONT, fontSize: 15, lineHeight: 20, color: '#1a1a1a', margin: 10 }
  });
  option.yAxis.push({
    gridIndex: gi, type: 'value', min: p.yMin, max: p.yMax, offset: 2,
    axisLine: { show: true, lineStyle: { color: '#777', width: 1 } },
    splitLine: { show: false },
    axisTick: { show: true, customValues: p.yTicks, length: 4, lineStyle: { color: '#333', width: 1 } },
    axisLabel: { customValues: p.yLabels, formatter: v => fmtNum(v),
      fontFamily: FONT, fontSize: 15, color: '#1a1a1a', margin: 6 }
  });
  option.series.push(gridLineSeries(gi, xMinorHours, minorValues(p.yMax, p.yMinorStep, p.yMajor), p, '#c6c6c6', 1.5));
  option.series.push(gridLineSeries(gi, xTickHours.slice(1, 6), p.yMajor, p, '#9e9e9e', 2));
  p.drawOrder.forEach(k => {
    const s = p.lines[k];
    option.series.push({
      type: 'line', name: s.name, xAxisIndex: gi, yAxisIndex: gi, z: 3,
      showSymbol: false, symbol: 'none', silent: true, animation: false,
      lineStyle: { color: s.color, width: s.width }, itemStyle: { color: s.color },
      data: toPairs(s.data, s.mid)
    });
  });
  option.graphic.elements.push(...legendTable(legendLeft[p.col], legendTop[p.row], p));
});

option.graphic.elements.push({
  type: 'text', silent: true, x: 1883, y: 871,
  style: { text: 'Copyright \u00a9 Vista Engineering 2004-10', fill: '#8a8a8a',
           font: '13.5px ' + FONT, align: 'right', verticalAlign: 'middle' }
});

const chart = echarts.init(document.getElementById('chart'), null, { renderer: 'canvas' });
chart.setOption(option);
</script>
</body>
</html>
